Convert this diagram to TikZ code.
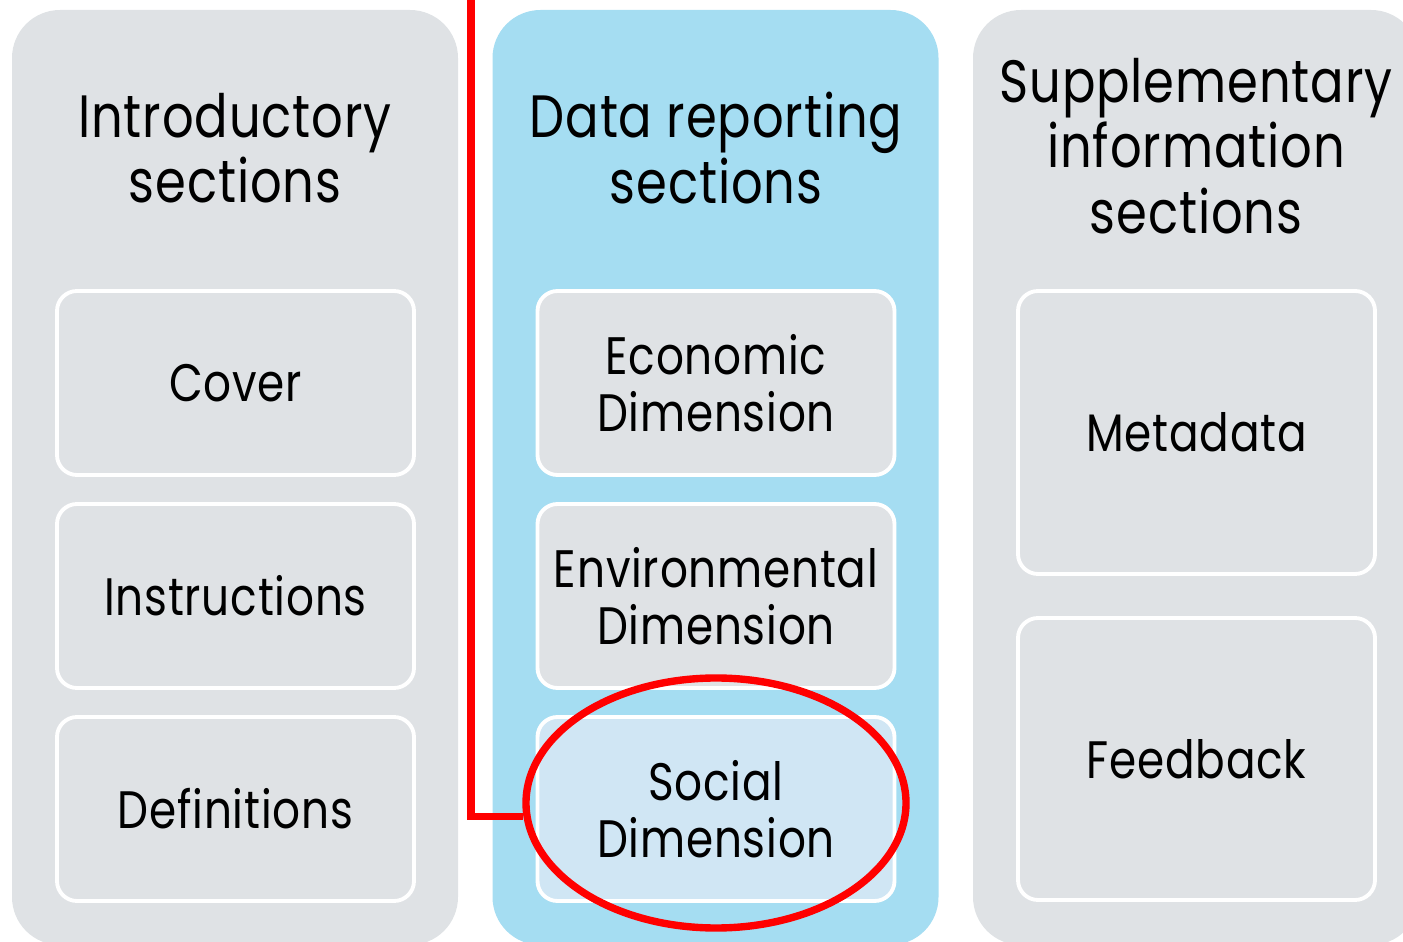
\documentclass[tikz,border=0pt]{standalone}
\usepackage{fontspec}
\setmainfont{Poppins}[FakeStretch=0.83, LetterSpace=1.5]
\usetikzlibrary{shapes.geometric}
\definecolor{colgray}{HTML}{DFE2E5}
\definecolor{colblue}{HTML}{A5DDF2}
\definecolor{socblue}{HTML}{D0E6F4}
\definecolor{markred}{HTML}{FF0000}

\begin{document}
\begin{tikzpicture}
	\tikzstyle{column} = [rounded corners=0.48cm, minimum width=4.46cm, minimum height=9.35cm, inner sep=0]
	\tikzstyle{title} = [align=center, font=\fontsize{17}{18.6}\selectfont]
	\tikzstyle{section} = [draw=white, line width=1.1pt, fill=colgray, rounded corners=0.2cm, minimum width=3.57cm, inner sep=0, align=center, font=\fontsize{15}{16.3}\selectfont]
	\useasboundingbox (0,0) rectangle (14.03,-9.42);
	\clip (0,0) rectangle (14.03,-9.42);
	% columns
	\node[column, fill=colgray] (intro) at (2.35, -4.775) {};
	\node[column, fill=colblue] (data) at (7.155, -4.775) {};
	\node[column, fill=colgray] (supp) at (11.96, -4.775) {};
	\node[title] (introT) at (2.35, -1.48) {Introductory\\sections};
	\node[title] (dataT) at (7.16, -1.48) {Data reporting\\sections};
	\node[title] (suppT) at (11.96, -1.46) {Supplementary\\information\\sections};
	% sections
	\node[section, minimum height=1.84cm] (cover) at (2.355, -3.83) {Cover};
	\node[section, minimum height=1.84cm] (instr) at (2.355, -5.96) {Instructions};
	\node[section, minimum height=1.84cm] (defs) at (2.355, -8.09) {Definitions};
	\node[section, minimum height=1.84cm] (econ) at (7.16, -3.83) {Economic\\Dimension};
	\node[section, minimum height=1.84cm] (env) at (7.16, -5.96) {Environmental\\Dimension};
	\node[section, minimum height=1.84cm, fill=socblue] (soc) at (7.16, -8.09) {Social\\Dimension};
	\node[section, minimum height=2.83cm] (meta) at (11.965, -4.325) {Metadata};
	\node[section, minimum height=2.82cm] (feed) at (11.965, -7.59) {Feedback};
	% highlight
	\node[ellipse, draw=markred, line width=2.1pt, minimum width=3.8cm, minimum height=2.5cm, inner sep=0] (circ) at (7.16, -8.03) {};
	\coordinate (top) at (4.71, 0.1);
	\draw [markred, line width=2.1pt] (top) |- (circ.184);
\end{tikzpicture}
\end{document}
